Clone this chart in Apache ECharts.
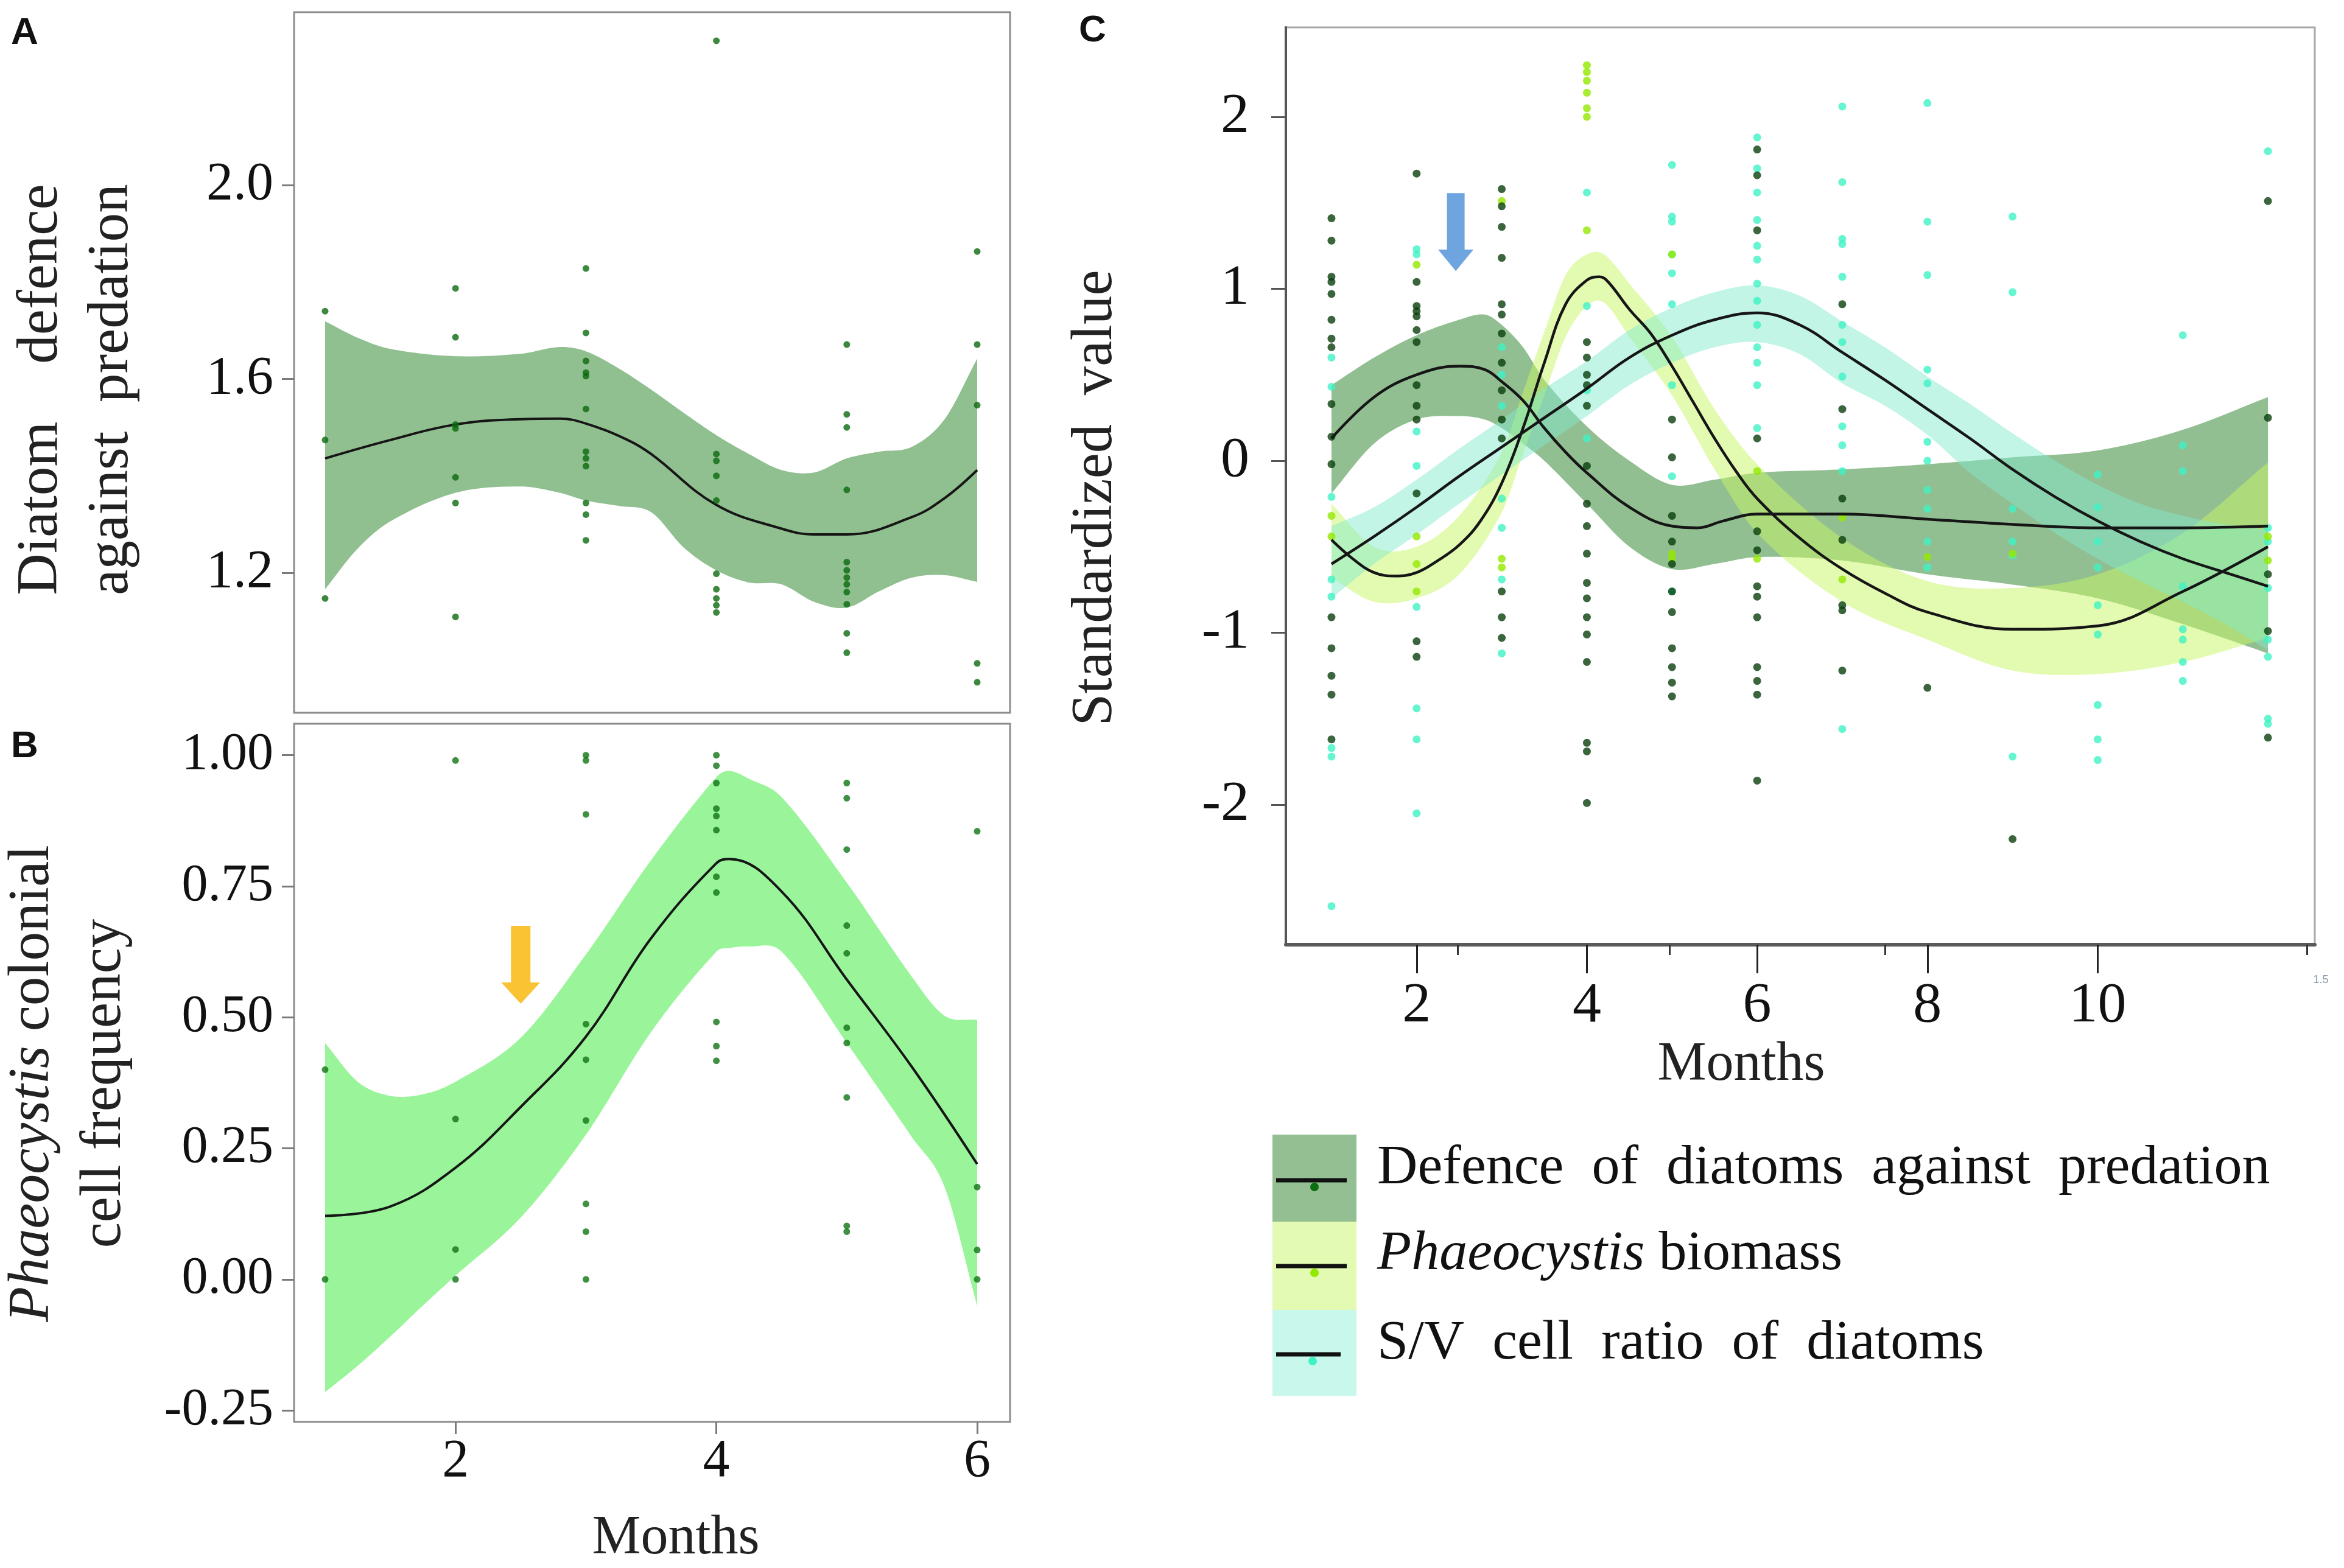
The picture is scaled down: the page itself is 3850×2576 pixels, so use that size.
<!DOCTYPE html>
<html><head><meta charset="utf-8">
<script src="https://cdn.jsdelivr.net/npm/echarts@6/dist/echarts.min.js"></script>
<style>html,body{margin:0;padding:0;background:#fff}#c{width:3850px;height:2576px}</style>
</head><body><div id="c"></div>
<script>
// ---------- Panel A: diatom defence ----------
const ptsA = [[1,1.74],[1,1.474],[1,1.147],
 [2,1.787],[2,1.686],[2,1.506],[2,1.498],[2,1.397],[2,1.344],[2,1.109],
 [3,1.828],[3,1.695],[3,1.637],[3,1.613],[3,1.606],[3,1.538],[3,1.45],[3,1.436],[3,1.42],[3,1.344],[3,1.32],[3,1.267],
 [4,2.298],[4,1.445],[4,1.431],[4,1.40],[4,1.349],[4,1.198],[4,1.166],[4,1.147],[4,1.133],[4,1.118],
 [5,1.671],[5,1.527],[5,1.50],[5,1.371],[5,1.222],[5,1.205],[5,1.19],[5,1.176],[5,1.16],[5,1.135],[5,1.075],[5,1.035],
 [6,1.863],[6,1.671],[6,1.546],[6,1.013],[6,0.974]];
const bandAx  = [1,1.25,1.5,2,2.5,2.8,3,3.25,3.5,3.75,4,4.25,4.5,4.75,5,5.25,5.5,5.75,6];
const bandAhi = [1.719,1.685,1.662,1.647,1.652,1.666,1.657,1.622,1.578,1.53,1.484,1.445,1.412,1.407,1.436,1.45,1.46,1.517,1.642];
const bandAlo = [1.166,1.25,1.306,1.365,1.378,1.365,1.349,1.338,1.325,1.252,1.205,1.18,1.176,1.14,1.128,1.162,1.19,1.195,1.181];
const lineAx  = [1,1.5,2,2.5,2.8,3,3.32,3.5,4,4.5,4.75,5,5.5,5.75,6];
const lineAy  = [1.436,1.474,1.506,1.517,1.518,1.508,1.474,1.445,1.34,1.291,1.279,1.279,1.315,1.354,1.412];
const ticksAy = [1.2,1.6,2.0];

// ---------- Panel B: Phaeocystis colonial cell frequency ----------
const ptsB = [[1,0.40],[1,0.0],
 [2,0.99],[2,0.306],[2,0.057],[2,0.0],
 [3,1.0],[3,0.99],[3,0.887],[3,0.487],[3,0.419],[3,0.303],[3,0.144],[3,0.091],[3,0.0],
 [4,1.0],[4,0.98],[4,0.947],[4,0.898],[4,0.884],[4,0.857],[4,0.768],[4,0.738],[4,0.491],[4,0.445],[4,0.417],
 [5,0.947],[5,0.918],[5,0.82],[5,0.675],[5,0.622],[5,0.48],[5,0.451],[5,0.347],[5,0.102],[5,0.091],
 [6,0.855],[6,0.176],[6,0.056],[6,0.0]];
const bandBx  = [1,1.25,1.5,1.75,2,2.5,3,3.5,4,4.1,4.25,4.5,5,5.5,5.75,6];
const bandBhi = [0.451,0.377,0.35,0.353,0.377,0.461,0.62,0.8,0.958,0.97,0.955,0.92,0.757,0.577,0.503,0.495];
const bandBlo = [-0.215,-0.165,-0.109,-0.05,0.007,0.118,0.276,0.472,0.625,0.632,0.635,0.625,0.451,0.271,0.176,-0.051];
const lineBx  = [1,1.5,2,2.5,3,3.5,4,4.1,4.5,5,5.5,6];
const lineBy  = [0.121,0.139,0.213,0.329,0.463,0.651,0.794,0.802,0.74,0.572,0.405,0.22];
const ticksBy = [-0.25,0,0.25,0.5,0.75,1.0];
const ticksBx = [2,4,6];
const arrowB  = [[2.5,0.6]];

// ---------- Panel C: standardized values ----------
const monthsC = [1,2,3,4,5,6,7,8,9,10,11,12];
const defVals = [
 [1.41,1.28,1.07,1.04,0.97,0.82,0.71,0.66,0.33,0.14,-0.02,-0.91,-1.09,-1.25,-1.36,-1.62],
 [1.67,1.04,0.9,0.87,0.84,0.76,0.69,0.44,0.32,0.24,-0.19,-1.05,-1.14],
 [1.58,1.48,1.36,1.18,0.91,0.85,0.74,0.57,0.41,0.24,0.13,-0.76,-0.91,-1.03],
 [0.69,0.6,0.5,0.44,0.32,-0.03,-0.25,-0.38,-0.54,-0.71,-0.8,-0.91,-1.01,-1.17,-1.64,-1.69,-1.99],
 [0.24,0.02,-0.32,-0.47,-0.6,-0.76,-0.88,-1.09,-1.2,-1.29,-1.37],
 [1.81,1.66,1.34,0.13,-0.41,-0.52,-0.73,-0.79,-0.91,-1.2,-1.28,-1.36,-1.86],
 [0.91,0.3,-0.22,-0.46,-0.84,-0.87,-1.22],
 [-1.32],
 [-2.2],
 [],
 [],
 [1.51,0.25,-0.66,-0.99,-1.61]];
const phaVals = [
 [-0.32,-0.44],
 [1.14,-0.44,-0.6,-0.76],
 [1.51,-0.57,-0.62],
 [2.3,2.26,2.21,2.14,2.05,2.0,1.34],
 [1.2,-0.54,-0.57],
 [-0.06,-0.57],
 [-0.33,-0.69],
 [-0.56],
 [-0.54],
 [],
 [],
 [-0.44,-0.58]];
const svVals = [
 [0.6,0.43,-0.21,-0.69,-0.79,-1.67,-1.72,-2.59],
 [1.23,1.2,0.17,-0.03,-0.85,-1.44,-1.62,-2.05],
 [0.66,0.5,0.32,-0.22,-0.39,-0.69,-1.12],
 [1.56,0.9,0.41,0.13],
 [1.72,1.42,1.39,1.2,1.09,0.91,0.44,-0.09,-0.76],
 [1.88,1.7,1.56,1.4,1.25,1.17,1.03,0.93,0.79,0.66,0.57,0.44,0.19],
 [2.06,1.62,1.29,1.26,1.07,0.79,0.69,0.49,0.2,0.09,-0.06,-1.56],
 [2.08,1.39,1.08,0.53,0.45,0.11,0.0,-0.17,-0.28,-0.47,-0.62],
 [1.42,0.98,-0.28,-0.47,-0.55,-1.72],
 [-0.08,-0.27,-0.47,-0.62,-0.84,-1.01,-1.42,-1.62,-1.74],
 [0.73,0.09,-0.06,-0.73,-0.98,-1.04,-1.17,-1.28],
 [1.8,-0.39,-0.47,-0.74,-1.04,-1.14,-1.5,-1.53]];

const bandDefX  = [1,1.5,2,2.5,2.8,3,3.25,3.5,4,4.5,5,5.5,6,7,8,9,10,11,12];
const bandDefHi = [0.44,0.6,0.73,0.82,0.85,0.79,0.66,0.47,0.2,0.0,-0.14,-0.11,-0.07,-0.05,-0.02,0.02,0.06,0.18,0.37];
const bandDefLo = [-0.19,0.1,0.24,0.26,0.24,0.19,0.1,0.0,-0.25,-0.5,-0.63,-0.6,-0.56,-0.58,-0.66,-0.72,-0.8,-0.95,-1.12];
const lineDefX  = [1,1.5,2,2.5,2.8,3,3.25,3.5,3.75,4,4.5,5,5.3,5.6,6,7,8,9,10,11,12];
const lineDefY  = [0.13,0.37,0.5,0.55,0.53,0.46,0.35,0.19,0.05,-0.07,-0.27,-0.38,-0.39,-0.35,-0.31,-0.31,-0.34,-0.37,-0.39,-0.39,-0.38];

const bandPhaX  = [1,1.5,2,2.5,3,3.25,3.5,3.75,4,4.2,4.5,5,5.5,6,7,8,9,10,11,12];
const bandPhaHi = [-0.25,-0.5,-0.5,-0.32,0.05,0.4,0.75,1.08,1.2,1.2,1.03,0.72,0.3,-0.02,-0.45,-0.7,-0.74,-0.66,-0.42,-0.01];
const bandPhaLo = [-0.68,-0.82,-0.8,-0.66,-0.3,0.04,0.38,0.72,0.9,0.92,0.72,0.38,-0.05,-0.42,-0.82,-1.04,-1.22,-1.24,-1.17,-1.03];
const linePhaX  = [1,1.25,1.5,1.75,2,2.25,2.5,2.75,3,3.25,3.5,3.75,4,4.15,4.25,4.5,4.75,5,5.25,5.5,5.75,6,6.5,7,7.5,8,9,10,11,12];
const linePhaY  = [-0.46,-0.57,-0.65,-0.67,-0.65,-0.58,-0.49,-0.35,-0.13,0.19,0.57,0.91,1.05,1.07,1.04,0.88,0.74,0.55,0.34,0.13,-0.06,-0.22,-0.45,-0.63,-0.77,-0.88,-0.98,-0.96,-0.76,-0.5];

const bandSvX  = [1,1.5,2,2.5,3,3.5,4,4.5,5,5.5,6,6.5,7,7.5,8,8.5,9,9.5,10,10.5,11,11.5,12];
const bandSvHi = [-0.38,-0.27,-0.11,0.07,0.24,0.42,0.58,0.76,0.89,0.98,1.02,0.96,0.81,0.66,0.49,0.33,0.16,0.0,-0.14,-0.25,-0.32,-0.37,-0.4];
const bandSvLo = [-0.8,-0.6,-0.43,-0.25,-0.08,0.09,0.26,0.44,0.57,0.66,0.69,0.62,0.45,0.32,0.15,-0.07,-0.25,-0.42,-0.57,-0.7,-0.82,-0.95,-1.1];
const lineSvY  = [-0.6,-0.44,-0.27,-0.09,0.08,0.25,0.42,0.6,0.73,0.82,0.86,0.79,0.63,0.47,0.3,0.13,-0.05,-0.21,-0.35,-0.47,-0.57,-0.65,-0.73];

const ticksCx = [2,4,6,8,10];
const minorCx = [2.48,4.97,7.5,12.46];
const ticksCy = [-2,-1,0,1,2];
const arrowC  = [[2.46,1.33]];

// ---------- helpers ----------
const SERIF = 'Liberation Serif';
const zip = (xs, ys) => xs.map((x, i) => [x, ys[i]]);
const byMonth = (vals) => { const out = []; vals.forEach((arr, i) => arr.forEach(v => out.push([monthsC[i], v]))); return out; };

// smooth pixel-space outline through pixel points (cubic Hermite along x)
function densify(p) {
  const n = p.length, out = [];
  const m = p.map((pt, i) => {
    if (i === 0) return (p[1][1]-p[0][1])/(p[1][0]-p[0][0]);
    if (i === n-1) return (p[n-1][1]-p[n-2][1])/(p[n-1][0]-p[n-2][0]);
    return (p[i+1][1]-p[i-1][1])/(p[i+1][0]-p[i-1][0]);
  });
  for (let i = 0; i < n-1; i++) {
    const h = p[i+1][0]-p[i][0];
    const steps = 16;
    for (let s = 0; s < steps; s++) {
      const t = s/steps, t2 = t*t, t3 = t2*t;
      const y = (2*t3-3*t2+1)*p[i][1] + (t3-2*t2+t)*h*m[i] + (-2*t3+3*t2)*p[i+1][1] + (t3-t2)*h*m[i+1];
      out.push([p[i][0]+t*h, y]);
    }
  }
  out.push(p[n-1]);
  return out;
}
function band(xs, lo, hi, color, idx) {
  return {type:'custom', xAxisIndex:idx, yAxisIndex:idx, data:[[xs[0], lo[0]]], silent:true, clip:true,
    renderItem:(params, api) => {
      const up = densify(xs.map((x,i) => api.coord([x, hi[i]])));
      const dn = densify(xs.map((x,i) => api.coord([x, lo[i]]))).reverse();
      return {type:'polygon', shape:{points:up.concat(dn)}, style:{fill:color}};
    }};
}
function curve(xs, ys, idx, w) {
  return {type:'line', xAxisIndex:idx, yAxisIndex:idx, data:zip(xs, ys), smooth:0.4, symbol:'none',
          lineStyle:{color:'#161616', width:w}, silent:true};
}
function pts(data, idx, color, size) {
  return {type:'scatter', xAxisIndex:idx, yAxisIndex:idx, data:data, symbol:'circle', symbolSize:size,
          itemStyle:{color:color}, silent:true};
}
const arrowPath = 'path://M2.5,0 L7.5,0 L7.5,14.5 L10,14.5 L5,20 L0,14.5 L2.5,14.5 Z';
const tickStyle = {color:'#7a7a7a', width:3};
const lab = (size) => ({fontFamily:SERIF, fontSize:size, color:'#111'});

const chart = echarts.init(document.getElementById('c'));
chart.setOption({
  animation:false,
  backgroundColor:'#ffffff',
  grid:[
    {left:483, top:20, width:1176, height:1151, show:true, borderColor:'#8c8c8c', borderWidth:3},
    {left:483, top:1189, width:1176, height:1147, show:true, borderColor:'#8c8c8c', borderWidth:3},
    {left:2112, top:45, width:1690, height:1507, show:true, borderColor:'#a8a8a8', borderWidth:3}
  ],
  xAxis:[
    {gridIndex:0, type:'value', min:0.762, max:6.252, axisLine:{show:false,onZero:false}, axisTick:{show:false}, axisLabel:{show:false}, splitLine:{show:false}},
    {gridIndex:1, type:'value', min:0.762, max:6.252, axisLine:{show:false,onZero:false},
     axisTick:{show:true, customValues:ticksBx, length:20, lineStyle:tickStyle},
     axisLabel:Object.assign({customValues:ticksBx, margin:22}, lab(88)), splitLine:{show:false}},
    {gridIndex:2, type:'value', position:'bottom', min:0.464, max:12.55, axisLine:{show:true, onZero:false, lineStyle:{color:'#5a5a5a', width:6}},
     axisTick:{show:true, customValues:ticksCx, length:47, lineStyle:{color:'#222', width:3}},
     axisLabel:Object.assign({customValues:ticksCx, margin:54}, lab(94)), splitLine:{show:false}},
    {gridIndex:2, type:'value', position:'bottom', offset:0, min:0.464, max:12.55, axisLine:{show:false,onZero:false},
     axisTick:{show:true, customValues:minorCx, length:17, lineStyle:{color:'#333', width:3}},
     axisLabel:{show:false}, splitLine:{show:false}}
  ],
  yAxis:[
    {gridIndex:0, type:'value', min:0.911, max:2.357, axisLine:{show:false,onZero:false},
     axisTick:{show:true, customValues:ticksAy, length:20, lineStyle:tickStyle},
     axisLabel:Object.assign({customValues:ticksAy, margin:34, formatter:v=>Number(v).toFixed(1)}, lab(88)), splitLine:{show:false}},
    {gridIndex:1, type:'value', min:-0.272, max:1.06, axisLine:{show:false,onZero:false},
     axisTick:{show:true, customValues:ticksBy, length:20, lineStyle:tickStyle},
     axisLabel:Object.assign({customValues:ticksBy, margin:34, formatter:v=>Number(v).toFixed(2)}, lab(86)), splitLine:{show:false}},
    {gridIndex:2, type:'value', min:-2.814, max:2.52, axisLine:{show:true, onZero:false, lineStyle:{color:'#555', width:4}},
     axisTick:{show:true, customValues:ticksCy, length:24, lineStyle:{color:'#555', width:3}},
     axisLabel:Object.assign({customValues:ticksCy, margin:60, formatter:v=>String(Math.round(v))}, lab(94)), splitLine:{show:false}}
  ],
  series:[
    // A
    band(bandAx, bandAlo, bandAhi, '#90bf90', 0),
    curve(lineAx, lineAy, 0, 4),
    Object.assign(pts(ptsA, 0, '#0a6a0e', 11), {z:5}),
    // B
    band(bandBx, bandBlo, bandBhi, '#9af59a', 1),
    curve(lineBx, lineBy, 1, 4),
    Object.assign(pts(ptsB, 1, '#107414', 11), {z:5}),
    {type:'scatter', xAxisIndex:1, yAxisIndex:1, data:arrowB, symbol:arrowPath, symbolSize:[64,128],
     itemStyle:{color:'#f7b400'}, silent:true, z:6},
    // C points
    pts(byMonth(svVals), 2, '#3ff2c4', 13),
    pts(byMonth(phaVals), 2, '#93e800', 13),
    pts(byMonth(defVals), 2, '#0a3f0c', 13),
    // C bands
    band(bandDefX, bandDefLo, bandDefHi, 'rgba(60,140,60,0.56)', 2),
    band(bandPhaX, bandPhaLo, bandPhaHi, 'rgba(200,245,100,0.5)', 2),
    band(bandSvX, bandSvLo, bandSvHi, 'rgba(130,235,205,0.48)', 2),
    // C curves
    curve(lineDefX, lineDefY, 2, 4.5),
    curve(linePhaX, linePhaY, 2, 4.5),
    curve(bandSvX, lineSvY, 2, 4.5),
    {type:'scatter', xAxisIndex:2, yAxisIndex:2, data:arrowC, symbol:arrowPath, symbolSize:[58,128],
     itemStyle:{color:'#4a8ed6'}, silent:true, z:6}
  ],
  graphic:[
    {type:'text', left:18, top:24, style:{text:'A', fontFamily:'Liberation Sans', fontWeight:'bold', fontSize:62, fill:'#111'}},
    {type:'text', left:18, top:1196, style:{text:'B', fontFamily:'Liberation Sans', fontWeight:'bold', fontSize:62, fill:'#111'}},
    {type:'text', left:1772, top:20, style:{text:'C', fontFamily:'Liberation Sans', fontWeight:'bold', fontSize:62, fill:'#111'}},
    {type:'text', x:126, y:640, rotation:Math.PI/2,
     style:{text:'Diatom    defence\nagainst  predation', fontFamily:SERIF, fontSize:95, lineHeight:116, fill:'#222', align:'center', verticalAlign:'middle'}},
    {type:'text', x:113, y:1780, rotation:Math.PI/2,
     style:{text:'{i|Phaeocystis} colonial\ncell frequency', fontFamily:SERIF, fontSize:95, lineHeight:118, fill:'#222', align:'center', verticalAlign:'middle',
            rich:{i:{fontStyle:'italic', fontFamily:SERIF, fontSize:95, lineHeight:118, fill:'#222'}}}},
    {type:'text', x:1800, y:818, rotation:Math.PI/2,
     style:{text:'Standardized  value', fontFamily:SERIF, fontSize:95, fill:'#222', align:'center', verticalAlign:'middle'}},
    {type:'text', x:1110, y:2528, style:{text:'Months', fontFamily:SERIF, fontSize:90, fill:'#222', align:'center', verticalAlign:'middle'}},
    {type:'text', x:2860, y:1750, style:{text:'Months', fontFamily:SERIF, fontSize:90, fill:'#222', align:'center', verticalAlign:'middle'}},
    {type:'text', x:3812, y:1610, style:{text:'1.5', fontFamily:'Liberation Sans', fontSize:18, fill:'#8a9ab0', align:'center', verticalAlign:'middle'}},
    // legend
    {type:'rect', shape:{x:2090, y:1864, width:138, height:143}, style:{fill:'#93bf93'}},
    {type:'rect', shape:{x:2090, y:2007, width:138, height:145}, style:{fill:'#e2fab2'}},
    {type:'rect', shape:{x:2090, y:2152, width:138, height:141}, style:{fill:'#c8f7eb'}},
    {type:'line', shape:{x1:2096, y1:1939, x2:2212, y2:1939}, style:{stroke:'#111', lineWidth:7}},
    {type:'line', shape:{x1:2096, y1:2080, x2:2212, y2:2080}, style:{stroke:'#111', lineWidth:7}},
    {type:'line', shape:{x1:2096, y1:2225, x2:2202, y2:2225}, style:{stroke:'#111', lineWidth:7}},
    {type:'circle', shape:{cx:2159, cy:1950, r:7}, style:{fill:'#0b6e10'}},
    {type:'circle', shape:{cx:2159, cy:2091, r:7}, style:{fill:'#93e800'}},
    {type:'circle', shape:{cx:2156, cy:2236, r:7}, style:{fill:'#3ff2c4'}},
    {type:'text', x:2262, y:1920, style:{text:'Defence  of  diatoms  against  predation', fontFamily:SERIF, fontSize:92, fill:'#111', verticalAlign:'middle'}},
    {type:'text', x:2262, y:2061, style:{text:'{i|Phaeocystis} biomass', fontFamily:SERIF, fontSize:92, fill:'#111', verticalAlign:'middle',
      rich:{i:{fontStyle:'italic', fontFamily:SERIF, fontSize:92, fill:'#111'}}}},
    {type:'text', x:2262, y:2208, style:{text:'S/V  cell  ratio  of  diatoms', fontFamily:SERIF, fontSize:92, fill:'#111', verticalAlign:'middle'}}
  ]
});
</script></body></html>
